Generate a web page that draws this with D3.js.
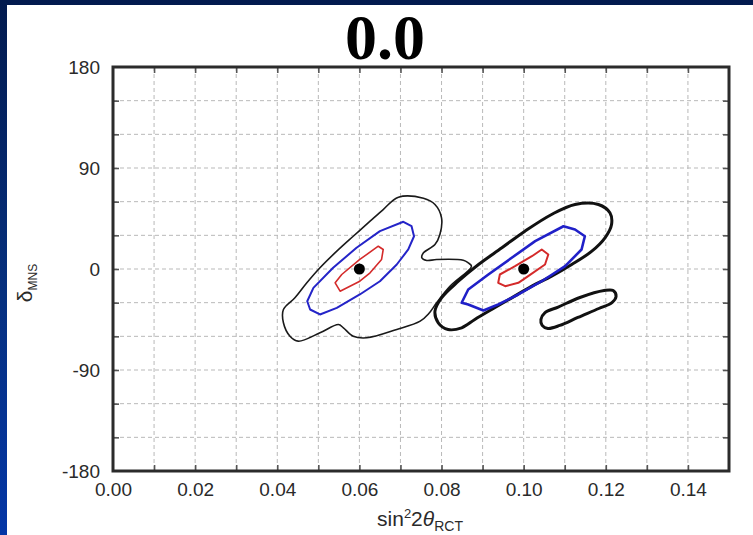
<!DOCTYPE html>
<html>
<head>
<meta charset="utf-8">
<script src="https://cdn.jsdelivr.net/npm/d3@7"></script>
<style>
  html, body { margin: 0; padding: 0; }
  body { width: 753px; height: 535px; overflow: hidden;
         background: linear-gradient(to bottom, #021a4e 0%, #06307f 55%, #0436a6 100%); }
  svg { display: block; }
</style>
</head>
<body>
<svg id="chart" width="753" height="535"></svg>
<script>
// Axis ranges and tick labels
const xDomain = [0, 0.15];
const yDomain = [-180, 180];
const xTickLabels = [0.00, 0.02, 0.04, 0.06, 0.08, 0.10, 0.12, 0.14];
const xGridValues = [0.01, 0.02, 0.03, 0.04, 0.05, 0.06, 0.07, 0.08, 0.09, 0.10, 0.11, 0.12, 0.13, 0.14];
const yTickLabels = [-180, -90, 0, 90, 180];
const yGridValues = [-150, -120, -90, -60, -30, 0, 30, 60, 90, 120, 150];
const title = "0.0";

// Best-fit points [sin^2 2theta, delta]
const bestFits = [[0.06, 0], [0.10, 0]];

// Allowed-region contours, [sin^2 2theta, delta (deg)]
const leftOuter = [
  [0.0695, 64], [0.0756, 63], [0.0784, 57.5], [0.0800, 45.6], [0.0796, 30.7], [0.0784, 21.8],
  [0.0756, 14.4], [0.0752, 10.0], [0.0764, 7.6], [0.0788, 8.5], [0.0853, 7.8], [0.0865, 5.5],
  [0.0873, 2.5], [0.0821, -15.3], [0.0788, -30.1], [0.0769, -39.7], [0.0748, -46.5],
  [0.0691, -53.9], [0.0618, -61.3], [0.0585, -59.9], [0.0561, -52.4], [0.0549, -49.5],
  [0.0504, -56.9], [0.0451, -64.3], [0.0431, -59.9], [0.0415, -47.9], [0.0415, -36.1],
  [0.0443, -25.7], [0.0472, -12.3], [0.0504, 1.1], [0.0545, 15.9], [0.0585, 29.2],
  [0.0626, 42.6], [0.0658, 53.0]
];
const leftMid = [
  [0.0707, 42.1], [0.0727, 38.1], [0.0733, 29.2], [0.0719, 17.4], [0.0691, 4.0], [0.0650, -10.9],
  [0.0601, -22.7], [0.0545, -34.6], [0.0504, -40.5], [0.0480, -36.1], [0.0473, -28.7],
  [0.0488, -16.8], [0.0536, 1.1], [0.0593, 18.9], [0.0650, 33.7]
];
const leftInner = [
  [0.0646, 20.3], [0.0658, 17.4], [0.0654, 8.5], [0.0626, -3.4], [0.0601, -10.9],
  [0.0553, -19.8], [0.0541, -12.3], [0.0557, -4.9], [0.0601, 8.5]
];
const rightOuter = [
  [0.1182, 57.5], [0.1210, 50.1], [0.1214, 39.7], [0.1198, 27.8], [0.1166, 15.9], [0.1117, 4.0],
  [0.1068, -6.4], [0.1020, -15.3], [0.0971, -25.7], [0.0922, -36.1], [0.0881, -45.0],
  [0.0849, -52.4], [0.0816, -53.9], [0.0792, -47.9], [0.0784, -37.6], [0.0800, -25.7],
  [0.0841, -10.9], [0.0890, 4.0], [0.0947, 18.9], [0.1003, 33.7], [0.1068, 48.6], [0.1125, 57.5]
];
const rightIsland = [
  [0.1042, -45.0], [0.1052, -38.8], [0.1084, -33.9], [0.1137, -25.4], [0.1196, -19.2],
  [0.1218, -19.2], [0.1225, -24.5], [0.1215, -29.9], [0.1183, -35.2], [0.1132, -43.2],
  [0.1088, -50.3], [0.1059, -53.0], [0.1045, -50.3]
];
const rightMid = [
  [0.1097, 38.1], [0.1125, 35.2], [0.1149, 29.2], [0.1141, 17.4], [0.1101, 2.5], [0.1044, -10.9],
  [0.0987, -22.7], [0.0938, -31.6], [0.0902, -37.0], [0.0865, -31.6], [0.0849, -30.1],
  [0.0865, -18.3], [0.0914, -4.9], [0.0971, 10.0], [0.1028, 24.8]
];
const rightInner = [
  [0.1044, 17.4], [0.1060, 12.9], [0.1052, 4.0], [0.1011, -6.4], [0.0987, -12.3],
  [0.0955, -15.3], [0.0938, -12.3], [0.0942, -4.9], [0.0979, 2.5], [0.1020, 11.4]
];

const contours = [
  { pts: leftOuter,   color: "#1a1a1a", width: 1.6, smooth: true },
  { pts: leftMid,     color: "#2424c8", width: 2.0, smooth: false },
  { pts: leftInner,   color: "#d42a2a", width: 1.6, smooth: false },
  { pts: rightOuter,  color: "#111111", width: 3.0, smooth: true },
  { pts: rightIsland, color: "#111111", width: 3.0, smooth: true },
  { pts: rightMid,    color: "#2020c8", width: 2.6, smooth: false },
  { pts: rightInner,  color: "#d42a2a", width: 2.0, smooth: false }
];

const svg = d3.select("#chart");
const W = 753, H = 535;
const plot = { left: 113, right: 729, top: 67, bottom: 471 };

// white slide panel
svg.append("rect").attr("x", 7).attr("y", 5).attr("width", W - 7).attr("height", H - 5).attr("fill", "#ffffff");

const x = d3.scaleLinear().domain(xDomain).range([plot.left, plot.right]);
const y = d3.scaleLinear().domain(yDomain).range([plot.bottom, plot.top]);

// dashed grid
const grid = svg.append("g").attr("stroke", "#b9b9b9").attr("stroke-width", 1).attr("stroke-dasharray", "4,3");
grid.selectAll("line.v").data(xGridValues).join("line")
  .attr("x1", d => x(d)).attr("x2", d => x(d)).attr("y1", plot.top).attr("y2", plot.bottom);
grid.selectAll("line.h").data(yGridValues).join("line")
  .attr("x1", plot.left).attr("x2", plot.right).attr("y1", d => y(d)).attr("y2", d => y(d));

// inward ticks on all four sides
const tickStyle = g => g.call(s => s.select(".domain").remove())
  .call(s => s.selectAll(".tick line").attr("stroke", "#555").attr("stroke-width", 1.6))
  .call(s => s.selectAll(".tick text").remove());
svg.append("g").attr("transform", `translate(0,${plot.bottom})`)
  .call(d3.axisBottom(x).tickValues(xGridValues).tickSize(-6)).call(tickStyle);
svg.append("g").attr("transform", `translate(0,${plot.top})`)
  .call(d3.axisTop(x).tickValues(xGridValues).tickSize(-6)).call(tickStyle);
svg.append("g").attr("transform", `translate(${plot.left},0)`)
  .call(d3.axisLeft(y).tickValues(yGridValues).tickSize(-6)).call(tickStyle);
svg.append("g").attr("transform", `translate(${plot.right},0)`)
  .call(d3.axisRight(y).tickValues(yGridValues).tickSize(-6)).call(tickStyle);

// tick labels
const labelStyle = g => g.call(s => s.select(".domain").remove())
  .call(s => s.selectAll(".tick line").remove())
  .call(s => s.selectAll(".tick text").attr("fill", "#2a2a2a")
    .attr("font-family", "'Liberation Sans', Arial, sans-serif").attr("font-size", 19));
svg.append("g").attr("transform", `translate(0,${plot.bottom})`)
  .call(d3.axisBottom(x).tickValues(xTickLabels).tickSize(0).tickPadding(12).tickFormat(d => d.toFixed(2)))
  .call(labelStyle);
svg.append("g").attr("transform", `translate(${plot.left},0)`)
  .call(d3.axisLeft(y).tickValues(yTickLabels).tickSize(0).tickPadding(13).tickFormat(d => String(d)))
  .call(labelStyle);

// contours
const lineSmooth = d3.line().x(d => x(d[0])).y(d => y(d[1])).curve(d3.curveCatmullRomClosed.alpha(0.5));
const lineSharp = d3.line().x(d => x(d[0])).y(d => y(d[1])).curve(d3.curveLinearClosed);
svg.append("g").selectAll("path").data(contours).join("path")
  .attr("d", c => (c.smooth ? lineSmooth : lineSharp)(c.pts))
  .attr("fill", "none").attr("stroke", d => d.color).attr("stroke-width", d => d.width)
  .attr("stroke-linejoin", "round");

// best-fit markers
svg.append("g").selectAll("circle").data(bestFits).join("circle")
  .attr("cx", d => x(d[0])).attr("cy", d => y(d[1])).attr("r", 5.5).attr("fill", "#000");

// frame
svg.append("rect").attr("x", plot.left).attr("y", plot.top)
  .attr("width", plot.right - plot.left).attr("height", plot.bottom - plot.top)
  .attr("fill", "none").attr("stroke", "#2b2b2b").attr("stroke-width", 3);

// title
svg.append("text").attr("x", 385).attr("y", 59).attr("text-anchor", "middle")
  .attr("font-family", "'Liberation Serif', 'Times New Roman', serif").attr("font-weight", "bold")
  .attr("font-size", 64).attr("fill", "#000").text(title);

// axis titles
const xt = svg.append("text").attr("x", 420).attr("y", 526).attr("text-anchor", "middle")
  .attr("font-family", "'Liberation Sans', Arial, sans-serif").attr("font-size", 21).attr("fill", "#2a2a2a");
xt.append("tspan").text("sin");
xt.append("tspan").attr("font-size", 13).attr("dy", -8).text("2");
xt.append("tspan").attr("dy", 8).text("2");
xt.append("tspan").attr("font-style", "italic").text("θ");
xt.append("tspan").attr("font-size", 14).attr("dy", 5).text("RCT");

const yt = svg.append("text").attr("transform", "translate(32,283) rotate(-90)").attr("text-anchor", "middle")
  .attr("font-family", "'Liberation Sans', Arial, sans-serif").attr("font-size", 21).attr("fill", "#2a2a2a");
yt.append("tspan").text("δ");
yt.append("tspan").attr("font-size", 12).attr("dy", 5).text("MNS");
</script>
</body>
</html>
